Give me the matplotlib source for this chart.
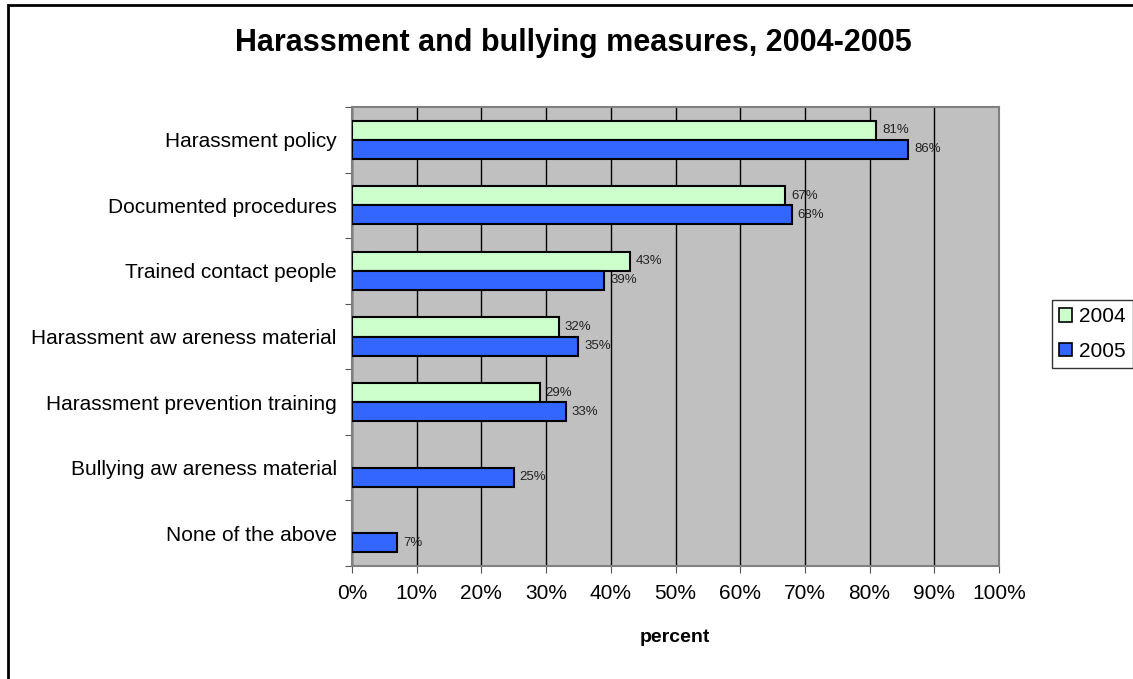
import matplotlib
matplotlib.use('Agg')
import matplotlib.pyplot as plt
from matplotlib.patches import Rectangle, Patch
import numpy as np

plt.rcParams['font.family'] = ['Liberation Sans', 'DejaVu Sans']

categories = ['Harassment policy', 'Documented procedures', 'Trained contact people',
              'Harassment aw areness material', 'Harassment prevention training',
              'Bullying aw areness material', 'None of the above']
vals_2004 = [81, 67, 43, 32, 29, None, None]
vals_2005 = [86, 68, 39, 35, 33, 25, 7]
years = ['2004', '2005']
colors = ['#CCFFCC', '#3366FF']

W, H = 1133, 679
fig = plt.figure(figsize=(W / 100, H / 100), dpi=100)
# outer chart frame (runs off the right and bottom edges)
fig.patches.append(Rectangle((8 / W, -0.1), 1.2, 1.1 - 5 / H, transform=fig.transFigure,
                             fill=False, edgecolor='black', linewidth=2))

ax = fig.add_axes([352 / W, 1 - 566 / H, 647 / W, 459 / H])
ax.set_facecolor('#C0C0C0')
for s in ax.spines.values():
    s.set_color('#808080')
    s.set_linewidth(1.5)

y = np.arange(len(categories))
h = 0.29
for vals, off, col in [(vals_2004, -h / 2, colors[0]), (vals_2005, h / 2, colors[1])]:
    for i, v in enumerate(vals):
        if v is None:
            continue
        ax.barh(y[i] + off, v, height=h, color=col, edgecolor='black', linewidth=1.5, zorder=3)
        ax.text(v + 0.9, y[i] + off, f'{v}%', va='center', ha='left', fontsize=9.5,
                color='#222222', zorder=4)

ax.set_xlim(0, 100)
ax.set_ylim(len(categories) - 0.5, -0.5)
ax.set_xticks(np.arange(0, 101, 10))
ax.set_xticklabels([f'{t}%' for t in range(0, 101, 10)], fontsize=15)
ax.xaxis.grid(True, color='black', linewidth=1, zorder=1)
ax.set_axisbelow(True)
ax.tick_params(axis='x', length=5, color='#555555', pad=8)

ax.set_yticks(np.arange(len(categories) + 1) - 0.5)
ax.set_yticklabels([])
ax.set_yticks(y, minor=True)
ax.set_yticklabels(categories, minor=True, fontsize=15)
ax.tick_params(axis='y', which='major', length=5, color='#555555')
ax.tick_params(axis='y', which='minor', length=0, pad=11)

fig.text(675 / W, 1 - 638 / H, 'percent', ha='center', va='center',
         fontsize=14, fontweight='bold')
fig.text(573 / W, 1 - 43 / H, 'Harassment and bullying measures, 2004-2005',
         ha='center', va='center', fontsize=22, fontweight='bold')

handles = [Patch(facecolor=c, edgecolor='black', linewidth=1.2) for c in colors]
leg = fig.legend(handles, years, loc='upper left', bbox_to_anchor=(1052 / W, 1 - 300 / H),
                 fontsize=15, frameon=True, fancybox=False, handlelength=0.62, handleheight=0.62,
                 handletextpad=0.35, borderpad=0.35, labelspacing=0.75, borderaxespad=0)
leg.get_frame().set_edgecolor('black')
leg.get_frame().set_linewidth(1)

fig.savefig('out.png', dpi=100)
